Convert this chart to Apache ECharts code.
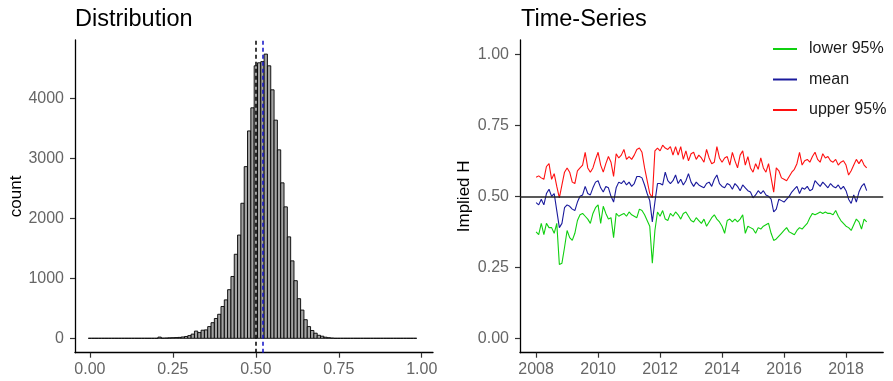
<!DOCTYPE html>
<html>
<head>
<meta charset="utf-8">
<style>
  html, body { margin: 0; padding: 0; background: #fff; }
  #chart { width: 893px; height: 381px; }
</style>
<script src="https://cdn.jsdelivr.net/npm/echarts@6.0.0/dist/echarts.min.js"></script>
</head>
<body>
<div id="chart"></div>
<script>
// ---- left panel: histogram of implied H, 0.01 bins centred on 0.00 .. 0.98
const binWidth = 0.01;
const binCounts = [
  0, 0, 0, 0, 0, 0, 0, 0, 0, 0,
  0, 0, 0, 0, 0, 0, 0, 0, 0, 0,
  0, 20, 3, 5, 8, 10, 12, 15, 22, 30,
  45, 70, 120, 95, 135, 140, 195, 260, 330, 400,
  530, 640, 810, 1030, 1400, 1720, 2250, 2860, 3455, 3840,
  4540, 4590, 4610, 4735, 4540, 4140, 3635, 3140, 2590, 2190,
  1690, 1290, 960, 660, 470, 310, 195, 130, 85, 50,
  35, 18, 10, 4, 0, 0, 0, 0, 0, 0,
  0, 0, 0, 0, 0, 0, 0, 0, 0, 0,
  0, 0, 0, 0, 0, 0, 0, 0, 0
];
const refLines = [0.50, 0.52];          // dashed: black, blue
const refColors = ['#000000', '#1010c8'];
const countTicks = [0, 1000, 2000, 3000, 4000];
const hTicks = [0, 0.25, 0.5, 0.75, 1];

// ---- right panel: monthly series from Jan 2008
const startYear = 2008;
const lower95 = [
  0.375, 0.365, 0.405, 0.365, 0.405, 0.39, 0.39, 0.37, 0.405, 0.26,
  0.265, 0.32, 0.38, 0.355, 0.345, 0.37, 0.415, 0.435, 0.44, 0.43,
  0.42, 0.405, 0.44, 0.46, 0.47, 0.405, 0.465, 0.44, 0.42, 0.425,
  0.355, 0.44, 0.43, 0.435, 0.44, 0.43, 0.445, 0.435, 0.43, 0.425,
  0.455, 0.45, 0.435, 0.415, 0.395, 0.265, 0.38, 0.445, 0.43, 0.45,
  0.42, 0.415, 0.44, 0.43, 0.445, 0.435, 0.42, 0.44, 0.445, 0.43,
  0.415, 0.41, 0.425, 0.415, 0.405, 0.42, 0.395, 0.41, 0.425, 0.435,
  0.42, 0.41, 0.395, 0.37, 0.415, 0.42, 0.41, 0.42, 0.41, 0.42,
  0.435, 0.37, 0.395, 0.39, 0.385, 0.37, 0.39, 0.385, 0.395, 0.40,
  0.405, 0.37, 0.345, 0.35, 0.36, 0.37, 0.38, 0.39, 0.375, 0.37,
  0.365, 0.38, 0.39, 0.385, 0.395, 0.405, 0.425, 0.44, 0.435, 0.44,
  0.445, 0.44, 0.445, 0.44, 0.44, 0.435, 0.45, 0.43, 0.415, 0.405,
  0.395, 0.39, 0.38, 0.40, 0.42, 0.41, 0.385, 0.42, 0.41
];
const mean = [
  0.478, 0.47, 0.49, 0.47, 0.51, 0.525, 0.50, 0.51, 0.45, 0.39,
  0.405, 0.46, 0.47, 0.465, 0.455, 0.45, 0.48, 0.50, 0.505, 0.535,
  0.51, 0.505, 0.53, 0.55, 0.555, 0.53, 0.515, 0.535, 0.53, 0.50,
  0.48, 0.53, 0.55, 0.545, 0.555, 0.54, 0.55, 0.535, 0.545, 0.57,
  0.57, 0.565, 0.54, 0.51, 0.485, 0.41, 0.48, 0.545, 0.545, 0.54,
  0.585, 0.555, 0.545, 0.555, 0.575, 0.545, 0.56, 0.54, 0.555, 0.58,
  0.55, 0.535, 0.55, 0.54, 0.535, 0.53, 0.545, 0.55, 0.535, 0.56,
  0.575, 0.545, 0.535, 0.53, 0.545, 0.54, 0.525, 0.545, 0.535, 0.52,
  0.54, 0.53, 0.52, 0.515, 0.495, 0.505, 0.52, 0.51, 0.52, 0.505,
  0.50, 0.49, 0.445, 0.455, 0.49, 0.485, 0.48, 0.49, 0.50, 0.515,
  0.525, 0.535, 0.51, 0.53, 0.525, 0.535, 0.52, 0.525, 0.555, 0.545,
  0.535, 0.55, 0.54, 0.53, 0.545, 0.535, 0.53, 0.54, 0.525, 0.535,
  0.52, 0.49, 0.475, 0.505, 0.48, 0.515, 0.535, 0.545, 0.52
];
const upper95 = [
  0.567, 0.572, 0.565, 0.56, 0.605, 0.615, 0.56, 0.58, 0.535, 0.495,
  0.54, 0.585, 0.60, 0.585, 0.55, 0.545, 0.59, 0.60, 0.61, 0.655,
  0.60, 0.585, 0.60, 0.63, 0.655, 0.61, 0.585, 0.615, 0.64, 0.62,
  0.57, 0.65, 0.635, 0.645, 0.665, 0.63, 0.64, 0.63, 0.645, 0.665,
  0.67, 0.655, 0.60, 0.555, 0.51, 0.495, 0.66, 0.67, 0.66, 0.68,
  0.67, 0.665, 0.675, 0.645, 0.675, 0.645, 0.675, 0.63, 0.66, 0.625,
  0.65, 0.655, 0.63, 0.645, 0.635, 0.62, 0.665, 0.635, 0.615, 0.62,
  0.675, 0.635, 0.62, 0.635, 0.64, 0.61, 0.655, 0.625, 0.60, 0.645,
  0.66, 0.61, 0.64, 0.60, 0.585, 0.615, 0.595, 0.635, 0.60, 0.585,
  0.615, 0.565, 0.515, 0.60, 0.59, 0.565, 0.56, 0.555, 0.57, 0.585,
  0.595, 0.615, 0.655, 0.61, 0.625, 0.63, 0.62, 0.64, 0.655, 0.63,
  0.62, 0.65, 0.635, 0.64, 0.625, 0.62, 0.63, 0.61, 0.62, 0.625,
  0.61, 0.575, 0.59, 0.61, 0.63, 0.615, 0.63, 0.61, 0.60
];
const yearTicks = [2008, 2010, 2012, 2014, 2016, 2018];
const impliedTicks = [0, 0.25, 0.5, 0.75, 1];
const refLevel = 0.5;

const FONT = 'Liberation Sans';
const LABEL = { color: '#666', fontSize: 16, fontFamily: FONT };

const histData = binCounts.map((n, k) => [k * binWidth, n]);
const toSeries = arr => arr.map((v, m) => [startYear + m / 12, v]);

function axisBase(extra) {
  return Object.assign({
    type: 'value',
    scale: true,
    splitLine: { show: false },
    axisLine: { show: true, onZero: false, lineStyle: { color: '#000', width: 1.3 } },
  }, extra);
}

function ticks(values) {
  return { show: true, length: 5, customValues: values, lineStyle: { color: '#333', width: 1.2 } };
}

const chart = echarts.init(document.getElementById('chart'));
chart.setOption({
  animation: false,
  backgroundColor: '#fff',
  title: [
    { text: 'Distribution', left: 70, top: 3, textStyle: { fontFamily: FONT, fontSize: 23.5, fontWeight: 'normal', color: '#000' } },
    { text: 'Time-Series', left: 516, top: 3, textStyle: { fontFamily: FONT, fontSize: 23.5, fontWeight: 'normal', color: '#000' } }
  ],
  legend: {
    orient: 'vertical',
    left: 768,
    top: 35,
    itemWidth: 24,
    itemHeight: 2,
    itemGap: 12.5,
    icon: 'rect',
    data: ['lower 95%', 'mean', 'upper 95%'],
    textStyle: { fontFamily: FONT, fontSize: 16, color: '#1a1a1a', lineHeight: 18, padding: [0, 0, 0, 7] }
  },
  grid: [
    { left: 75, right: 460, top: 40, bottom: 28.3 },
    { left: 520, right: 9.8, top: 40, bottom: 28.3 }
  ],
  xAxis: [
    axisBase({
      gridIndex: 0, min: -0.045, max: 1.034,
      axisTick: ticks(hTicks),
      axisLabel: Object.assign({ customValues: hTicks, margin: 9, formatter: v => v.toFixed(2) }, LABEL)
    }),
    axisBase({
      gridIndex: 1, min: 2007.48, max: 2019.2,
      axisTick: ticks(yearTicks),
      axisLabel: Object.assign({ customValues: yearTicks, margin: 9, formatter: v => String(Math.round(v)) }, LABEL)
    })
  ],
  yAxis: [
    axisBase({
      gridIndex: 0, min: -240, max: 4970,
      name: 'count', nameLocation: 'middle', nameGap: 50,
      nameTextStyle: { fontFamily: FONT, fontSize: 17, color: '#000' },
      axisTick: ticks(countTicks),
      axisLabel: Object.assign({ customValues: countTicks, margin: 11, formatter: v => String(v) }, LABEL)
    }),
    axisBase({
      gridIndex: 1, min: -0.05, max: 1.05,
      name: 'Implied H', nameLocation: 'middle', nameGap: 47,
      nameTextStyle: { fontFamily: FONT, fontSize: 17, color: '#000' },
      axisTick: ticks(impliedTicks),
      axisLabel: Object.assign({ customValues: impliedTicks, margin: 11, formatter: v => v.toFixed(2) }, LABEL)
    })
  ],
  series: [
    {
      name: 'hist',
      type: 'custom',
      xAxisIndex: 0, yAxisIndex: 0,
      data: histData,
      renderItem: function (params, api) {
        const c = api.value(0), n = api.value(1);
        const p0 = api.coord([c - binWidth / 2, n]);
        const p1 = api.coord([c + binWidth / 2, 0]);
        return {
          type: 'rect',
          shape: { x: p0[0], y: p0[1], width: p1[0] - p0[0], height: p1[1] - p0[1] },
          style: { fill: '#a3a3a3', stroke: '#000', lineWidth: 0.9 }
        };
      },
      markLine: {
        silent: true,
        symbol: 'none',
        label: { show: false },
        data: refLines.map((v, i) => ({ xAxis: v, lineStyle: { color: refColors[i], type: [4, 3], width: 1.5 } }))
      }
    },
    {
      name: 'lower 95%', type: 'line', xAxisIndex: 1, yAxisIndex: 1,
      data: toSeries(lower95), symbol: 'none', color: '#10d010',
      lineStyle: { width: 1.1 }
    },
    {
      name: 'mean', type: 'line', xAxisIndex: 1, yAxisIndex: 1,
      data: toSeries(mean), symbol: 'none', color: '#1a1a9c',
      lineStyle: { width: 1.1 }
    },
    {
      name: 'upper 95%', type: 'line', xAxisIndex: 1, yAxisIndex: 1,
      data: toSeries(upper95), symbol: 'none', color: '#ff1010',
      lineStyle: { width: 1.1 },
      markLine: {
        silent: true,
        symbol: 'none',
        label: { show: false },
        data: [{ yAxis: refLevel, lineStyle: { color: '#222', type: 'solid', width: 1.5 } }]
      }
    }
  ]
});
</script>
</body>
</html>
